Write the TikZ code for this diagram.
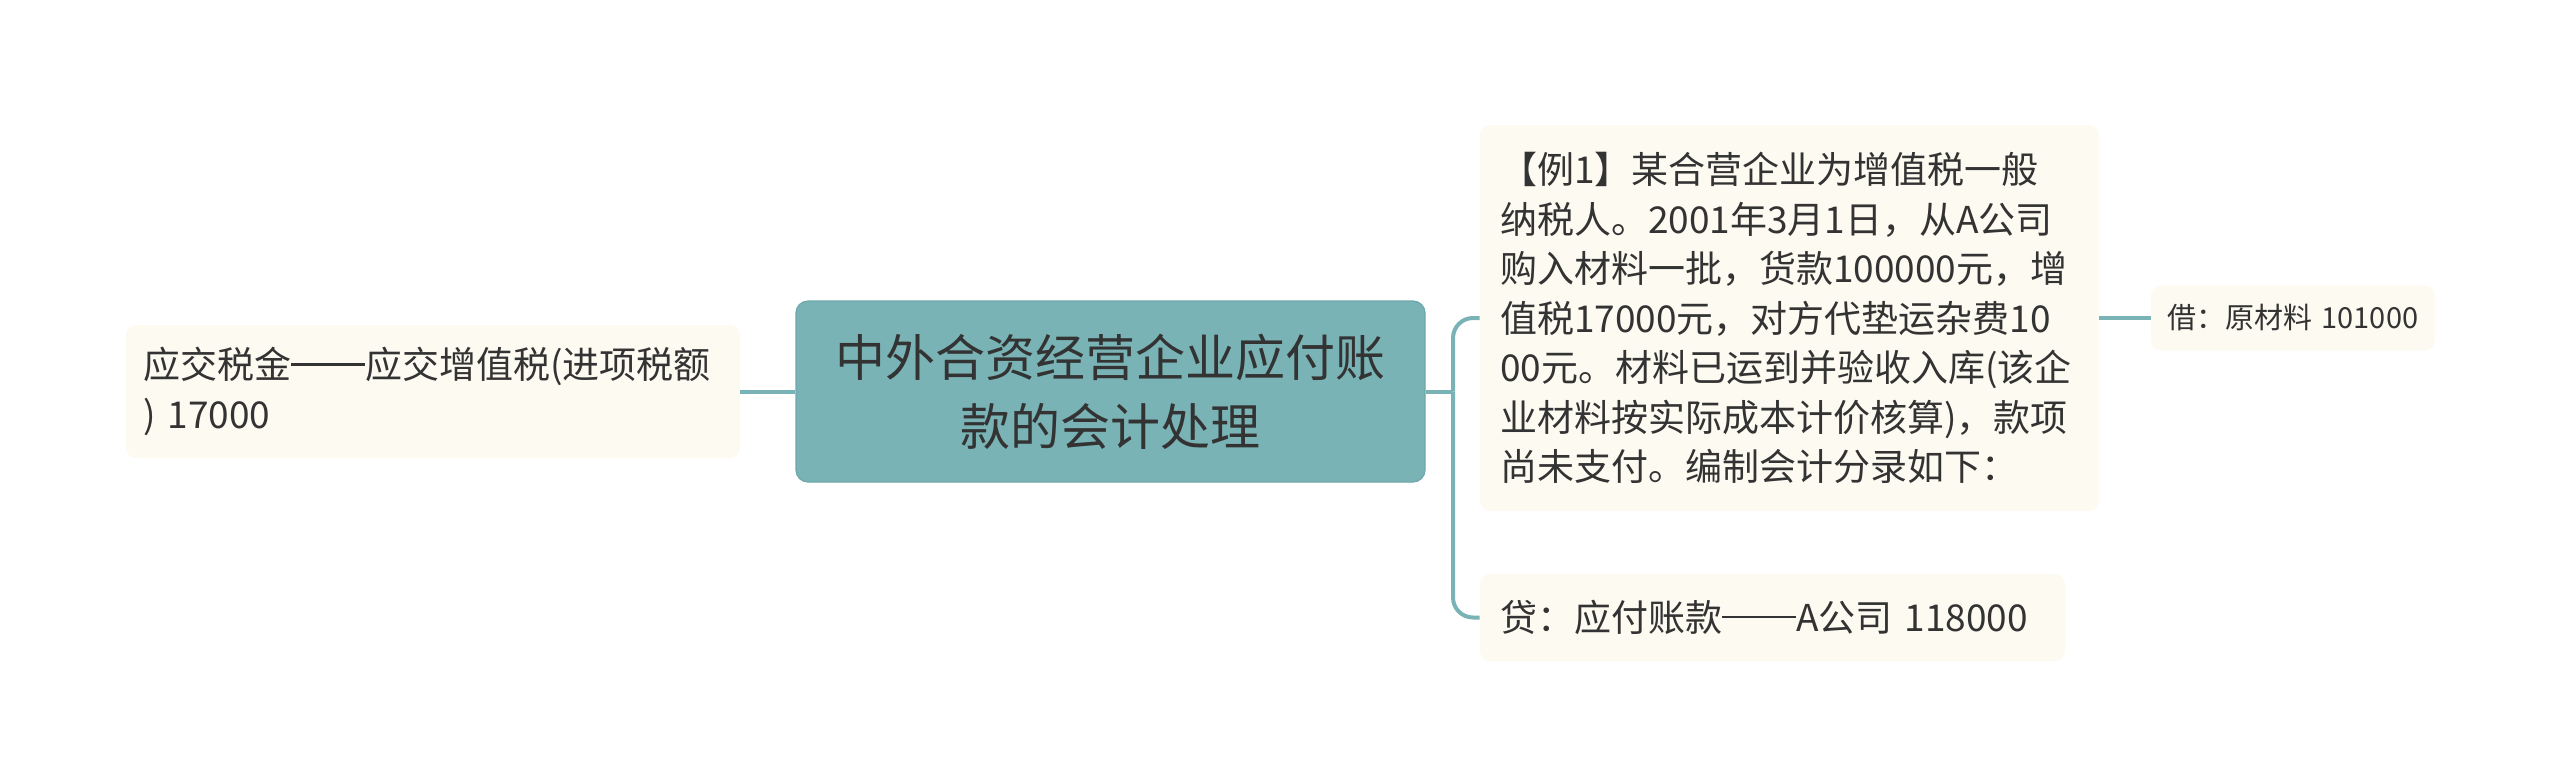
\documentclass[tikz,border=0pt]{standalone}
\usepackage{fontspec}
\setmainfont{Noto Sans CJK SC}
\definecolor{rootfill}{HTML}{7AB3B5}
\definecolor{rootline}{HTML}{6DA7A9}
\definecolor{leaffill}{HTML}{FCFAF1}
\definecolor{branchcol}{HTML}{7AB3B5}
\definecolor{inkcol}{HTML}{333333}
% full-width double dash as the reference prints it
\newcommand{\cndash}{\rule[0.36em]{2em}{0.06em}}

\begin{document}
\begin{tikzpicture}[x=0.5pt,y=-0.5pt]

        \useasboundingbox (0,0) rectangle (2560,783);

        \node[rectangle, rounded corners=6pt, fill=rootfill, draw=rootline, line width=0.6pt,
              minimum width=314.5pt, minimum height=90.5pt, inner ysep=0pt, align=center,
              text=inkcol, font=\fontsize{25pt}{34.5pt}\selectfont]
              (root) at (1110.5,391.5) {中外合资经营企业应付账\\款的会计处理};

        \begin{scope}[every node/.style={rectangle, rounded corners=5pt, fill=leaffill,
              text=inkcol, inner ysep=0pt, align=left,
              font=\fontsize{18.5pt}{24.75pt}\selectfont}]
          \node[minimum width=307pt, minimum height=66.5pt, inner xsep=8.5pt, text width=290pt]
                (tax) at (433,391.5) {应交税金\cndash 应交增值税(进项税额\\) 17000};
          \node[minimum width=309.5pt, minimum height=193pt, inner xsep=10pt, text width=289.5pt]
                (ex)  at (1789.5,318) {【例1】某合营企业为增值税一般\\纳税人。2001年3月1日，从A公司\\购入材料一批，货款100000元，增\\值税17000元，对方代垫运杂费10\\00元。材料已运到并验收入库(该企\\业材料按实际成本计价核算)，款项\\尚未支付。编制会计分录如下：};
          \node[minimum width=292.5pt, minimum height=43.5pt, inner xsep=10pt, text width=272.5pt]
                (cr)  at (1772.5,617.5) {贷：应付账款\cndash A公司 118000};
          \node[minimum width=142pt, minimum height=32.5pt, inner xsep=8pt, text width=126pt,
                font=\fontsize{14.5pt}{18pt}\selectfont]
                (dr)  at (2293,318) {借：原材料 101000};
        \end{scope}

        \coordinate (fork) at (1453,391.5);

        \begin{scope}[every edge/.style={draw=branchcol, line width=2pt},
              elbow/.style={rounded corners=10pt, to path={|- (\tikztotarget)}}]
          \path (tax.east)  edge (root.west);
          \path (root.east) edge (fork);
          \path (fork)      edge[elbow] (ex.west);
          \path (fork)      edge[elbow] (cr.west);
          \path (ex.east)   edge (dr.west);
        \end{scope}

      \end{tikzpicture}
\end{document}
